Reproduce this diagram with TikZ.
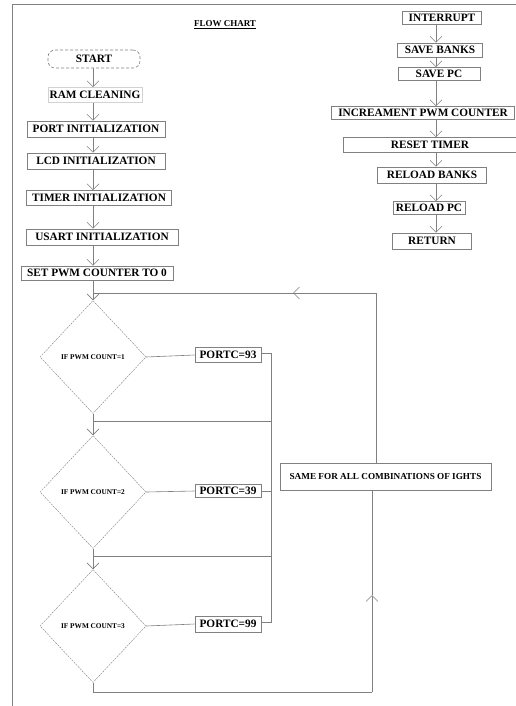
\documentclass[tikz,border=0pt]{standalone}
\usepackage{fontspec}
\setmainfont{Liberation Serif}
\usetikzlibrary{shapes.geometric,arrows.meta}

\definecolor{linegray}{gray}{0.5}
\tikzset{
  procbox/.style={draw=linegray, line width=0.6pt, inner sep=1pt, minimum height=15pt, font=\fontsize{11.3}{12}\selectfont\bfseries},
  decbox/.style={diamond, draw=linegray, dash pattern=on 2pt off 1pt, minimum width=106pt, minimum height=113pt, inner sep=0pt, font=\fontsize{7.3}{8}\selectfont\bfseries},
  flowline/.style={draw=linegray, line width=0.6pt},
}

\begin{document}
\begin{tikzpicture}[x=1pt,y=-1pt,>={Straight Barb[length=6pt,width=12pt]}]
\useasboundingbox (0,0) rectangle (516,706);
% page frame
\draw[linegray] (12,706) -- (12,4) -- (516,4);
\node[font=\fontsize{9}{10}\selectfont\bfseries] (title) at (225,25) {\underline{FLOW CHART}};

% main program
\coordinate (spine) at (93,0);
\node[procbox, rounded corners=7pt, densely dashed, minimum width=92pt, minimum height=18pt] (start) at (94,59) {START};
\node[procbox, draw=linegray!35, minimum width=94pt] (ram) at (95,95) {RAM CLEANING};
\node[procbox, minimum width=138pt, minimum height=16pt] (port) at (96,129) {PORT INITIALIZATION};
\node[procbox, minimum width=138pt, minimum height=16pt] (lcd) at (96,161) {LCD  INITIALIZATION};
\node[procbox, minimum width=145pt] (timer) at (99,198) {TIMER INITIALIZATION};
\node[procbox, minimum width=152pt, minimum height=16pt] (usart) at (102,237) {USART INITIALIZATION};
\node[procbox, minimum width=152pt, minimum height=14pt] (setpwm) at (97,273) {SET PWM COUNTER TO 0};

\draw[flowline,->] (start.south -| spine) -- (ram.north -| spine);
\draw[flowline,->] (ram.south -| spine) -- (port.north -| spine);
\draw[flowline,->] (port.south -| spine) -- (lcd.north -| spine);
\draw[flowline,->] (lcd.south -| spine) -- (timer.north -| spine);
\draw[flowline,->] (timer.south -| spine) -- (usart.north -| spine);
\draw[flowline,->] (usart.south -| spine) -- (setpwm.north -| spine);

% decisions
\node[decbox] (dec1) at (93,357) {IF PWM COUNT=1};
\node[decbox] (dec2) at (93,492) {IF PWM COUNT=2};
\node[decbox] (dec3) at (93,626) {IF PWM COUNT=3};
\node[procbox, minimum width=66pt] (portc1) at (228,355) {PORTC=93};
\node[procbox, minimum width=66pt, minimum height=13pt] (portc2) at (228,491) {PORTC=39};
\node[procbox, minimum width=66pt, minimum height=16pt] (portc3) at (228,624) {PORTC=99};
\node[procbox, minimum width=211pt, minimum height=27pt, font=\fontsize{9.2}{10}\selectfont\bfseries] (same) at (385.5,476.5) {SAME FOR ALL  COMBINATIONS OF IGHTS};

\draw[flowline,->] (setpwm.south -| spine) -- (dec1.north);
\draw[flowline,->] (dec1.south) -- (dec2.north);
\draw[flowline,->] (dec2.south) -- (dec3.north);
\draw[flowline] (dec1.east) -- (portc1.west);
\draw[flowline] (dec2.east) -- (portc2.west);
\draw[flowline] (dec3.east) -- (portc3.west);

\coordinate (busTop) at (271,353);
\coordinate (busBot) at (271,622);
\draw[flowline] (portc1.east |- busTop) -- (busTop) -- (busBot) -- (portc3.east |- busBot);
\draw[flowline] (portc2.east) -- (portc2.east -| busTop);
\draw[flowline] (93,421) -- (271,421);
\draw[flowline] (93,556) -- (271,556);

% loop back
\coordinate (loopTR) at (376,293);
\coordinate (loopArr) at (293,293);
\coordinate (loopTL) at (93,293);
\draw[flowline] (same.north -| loopTR) -- (loopTR) -- (loopArr);
\draw[flowline,->] (loopTR) -- (loopArr);
\draw[flowline] (loopArr) -- (loopTL);

\coordinate (botL) at (93,692);
\coordinate (botR) at (372,692);
\coordinate (botArr) at (372,595);
\draw[flowline] (dec3.south) -- (botL) -- (botR);
\draw[flowline,->] (botR) -- (botArr);
\draw[flowline] (botArr) -- (same.south -| botR);

% interrupt routine
\coordinate (rspine) at (436,0);
\node[procbox, minimum width=79pt, minimum height=13pt] (intr) at (442,18) {INTERRUPT};
\node[procbox, minimum width=85pt, minimum height=14pt] (savebk) at (440,50) {SAVE BANKS};
\node[procbox, minimum width=82pt, minimum height=13pt] (savepc) at (439,74) {SAVE  PC};
\node[procbox, minimum width=183pt, minimum height=13pt] (incpwm) at (423,113) {INCREAMENT PWM COUNTER};
\node[procbox, minimum width=174pt] (rsttmr) at (430,145) {RESET TIMER};
\node[procbox, minimum width=109pt, minimum height=16pt] (loadbk) at (432,175) {RELOAD BANKS};
\node[procbox, minimum width=72pt, minimum height=13pt] (loadpc) at (429,208) {RELOAD PC};
\node[procbox, minimum width=79pt, minimum height=16pt] (retn) at (432,241) {RETURN};

\draw[flowline,->] (intr.south -| rspine) -- (savebk.north -| rspine);
\draw[flowline,->] (savebk.south -| rspine) -- (savepc.north -| rspine);
\draw[flowline,->] (savepc.south -| rspine) -- (incpwm.north -| rspine);
\draw[flowline,->] (incpwm.south -| rspine) -- (rsttmr.north -| rspine);
\draw[flowline,->] (rsttmr.south -| rspine) -- (loadbk.north -| rspine);
\draw[flowline,->] (loadbk.south -| rspine) -- (loadpc.north -| rspine);
\draw[flowline,->] (loadpc.south -| rspine) -- (retn.north -| rspine);
\end{tikzpicture}
\end{document}
